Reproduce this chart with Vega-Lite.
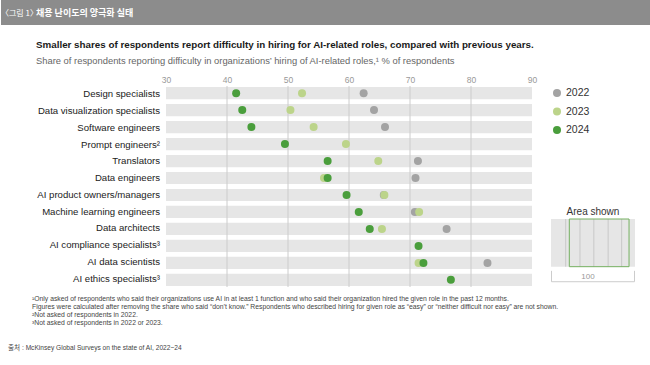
{
  "$schema": "https://vega.github.io/schema/vega-lite/v6.json",
  "padding": 0,
  "spacing": 0,
  "background": "white",
  "config": {
    "view": {"stroke": null},
    "font": "Liberation Sans Narrow, Liberation Sans, Noto Sans CJK KR, sans-serif",
    "concat": {"spacing": 0}
  },
  "datasets": {
    "points": [
      {"role": "Design specialists", "year": "2022", "value": 62.4},
      {"role": "Data visualization specialists", "year": "2022", "value": 64.1},
      {"role": "Software engineers", "year": "2022", "value": 65.9},
      {"role": "Translators", "year": "2022", "value": 71.3},
      {"role": "Data engineers", "year": "2022", "value": 70.9},
      {"role": "AI product owners/managers", "year": "2022", "value": 65.7},
      {"role": "Machine learning engineers", "year": "2022", "value": 70.8},
      {"role": "Data architects", "year": "2022", "value": 76.0},
      {"role": "AI data scientists", "year": "2022", "value": 82.7},
      {"role": "Design specialists", "year": "2023", "value": 52.3},
      {"role": "Data visualization specialists", "year": "2023", "value": 50.4},
      {"role": "Software engineers", "year": "2023", "value": 54.2},
      {"role": "Prompt engineers²", "year": "2023", "value": 59.5},
      {"role": "Translators", "year": "2023", "value": 64.8},
      {"role": "Data engineers", "year": "2023", "value": 55.9},
      {"role": "AI product owners/managers", "year": "2023", "value": 65.8},
      {"role": "Machine learning engineers", "year": "2023", "value": 71.5},
      {"role": "Data architects", "year": "2023", "value": 65.4},
      {"role": "AI data scientists", "year": "2023", "value": 71.4},
      {"role": "Design specialists", "year": "2024", "value": 41.5},
      {"role": "Data visualization specialists", "year": "2024", "value": 42.5},
      {"role": "Software engineers", "year": "2024", "value": 44.0},
      {"role": "Prompt engineers²", "year": "2024", "value": 49.5},
      {"role": "Translators", "year": "2024", "value": 56.5},
      {"role": "Data engineers", "year": "2024", "value": 56.5},
      {"role": "AI product owners/managers", "year": "2024", "value": 59.6},
      {"role": "Machine learning engineers", "year": "2024", "value": 61.6},
      {"role": "Data architects", "year": "2024", "value": 63.4},
      {"role": "AI compliance specialists³", "year": "2024", "value": 71.4},
      {"role": "AI data scientists", "year": "2024", "value": 72.2},
      {"role": "AI ethics specialists³", "year": "2024", "value": 76.7}
    ],
    "roles": [
      {"role": "Design specialists"},
      {"role": "Data visualization specialists"},
      {"role": "Software engineers"},
      {"role": "Prompt engineers²"},
      {"role": "Translators"},
      {"role": "Data engineers"},
      {"role": "AI product owners/managers"},
      {"role": "Machine learning engineers"},
      {"role": "Data architects"},
      {"role": "AI compliance specialists³"},
      {"role": "AI data scientists"},
      {"role": "AI ethics specialists³"}
    ],
    "grid": [{"g": 40}, {"g": 50}, {"g": 60}, {"g": 70}, {"g": 80}],
    "years": [{"year": "2022"}, {"year": "2023"}, {"year": "2024"}],
    "insetShown": [{"from": 21.8, "to": 92.9}],
    "insetGrid": [{"g": 17.5}, {"g": 34.5}, {"g": 51}, {"g": 68}, {"g": 84.1}],
    "bracket": [
      {"seq": 1, "bx": 0.6, "by": 0.19},
      {"seq": 2, "bx": 0.6, "by": 0.02},
      {"seq": 3, "bx": 99.4, "by": 0.02},
      {"seq": 4, "bx": 99.4, "by": 0.19}
    ]
  },
  "vconcat": [
    {
      "width": 650,
      "height": 25,
      "view": {"fill": "#8c8c8c", "stroke": null},
      "data": {"values": [{}]},
      "layer": [
        {"mark": {"type": "text", "text": "〈그림 1〉", "x": 0, "y": 13.5, "align": "left", "baseline": "middle", "font": "Noto Sans CJK KR", "fontSize": 8, "color": "white"}, "encoding": {}},
        {"mark": {"type": "text", "text": "채용 난이도의 양극화 실태", "x": 35, "y": 13, "align": "left", "baseline": "middle", "font": "Noto Sans CJK KR", "fontSize": 9, "fontWeight": "bold", "color": "white"}, "encoding": {}}
      ]
    },
    {
      "width": 650,
      "height": 47,
      "data": {"values": [{}]},
      "layer": [
        {"mark": {"type": "rule", "x": 28, "y": 13, "y2": 24, "strokeWidth": 3, "color": "#5aa846"}, "encoding": {}},
        {"mark": {"type": "text", "text": "Smaller shares of respondents report difficulty in hiring for AI-related roles, compared with previous years.", "x": 35, "y": 18.5, "align": "left", "baseline": "middle", "fontSize": 9.8, "fontWeight": "bold", "color": "#1a1a1a"}, "encoding": {}},
        {"mark": {"type": "text", "text": "Share of respondents reporting difficulty in organizations’ hiring of AI-related roles,¹ % of respondents", "x": 35, "y": 34.5, "align": "left", "baseline": "middle", "fontSize": 9.4, "color": "#666666"}, "encoding": {}}
      ]
    },
    {
      "hconcat": [
        {
          "hconcat": [
            {
              "width": 160,
              "height": 201,
              "data": {"name": "roles"},
              "mark": {"type": "text", "x": 159, "align": "right", "baseline": "middle", "fontSize": 9.6, "color": "#222222"},
              "encoding": {
                "y": {"field": "role", "type": "nominal", "sort": null, "scale": {"paddingInner": 0.28, "paddingOuter": 0.06}, "axis": null},
                "text": {"field": "role"}
              }
            },
            {
              "width": 366,
              "height": 201,
              "layer": [
                {
                  "data": {"name": "roles"},
                  "mark": {"type": "rect", "color": "#e6e6e6"},
                  "encoding": {
                    "y": {"field": "role", "type": "nominal", "sort": null, "title": null, "scale": {"paddingInner": 0.28, "paddingOuter": 0.06}, "axis": null},
                    "x": {
                      "datum": 30, "type": "quantitative", "title": null,
                      "scale": {"domain": [30, 90], "nice": false, "zero": false},
                      "axis": {"orient": "top", "values": [30, 40, 50, 60, 70, 80, 90], "ticks": false, "domain": false, "grid": false, "labelFlush": false, "labelPadding": 2, "labelFontSize": 8.5, "labelColor": "#999999", "minExtent": 13, "maxExtent": 13, "title": null}
                    },
                    "x2": {"datum": 90}
                  }
                },
                {
                  "data": {"name": "grid"},
                  "mark": {"type": "rule", "color": "#cccccc", "strokeWidth": 1},
                  "encoding": {"x": {"field": "g", "type": "quantitative", "title": null}}
                },
                {
                  "data": {"name": "points"},
                  "mark": {"type": "circle", "size": 64, "opacity": 1},
                  "encoding": {
                    "x": {"field": "value", "type": "quantitative", "title": null},
                    "y": {"field": "role", "type": "nominal", "sort": null, "title": null},
                    "color": {"field": "year", "type": "nominal", "scale": {"domain": ["2022", "2023", "2024"], "range": ["#a3a3a3", "#bcd48a", "#4a9e3c"]}, "legend": null},
                    "order": {"field": "year"}
                  }
                }
              ]
            }
          ],
          "spacing": 0
        },
        {
          "vconcat": [
            {
              "width": 84,
              "height": 77,
              "data": {"name": "years"},
              "layer": [
                {
                  "mark": {"type": "circle", "size": 64, "opacity": 1, "x": 6},
                  "encoding": {
                    "y": {"field": "year", "type": "nominal", "scale": {"type": "point", "range": [7, 44], "padding": 0}, "axis": null},
                    "color": {"field": "year", "type": "nominal", "scale": {"domain": ["2022", "2023", "2024"], "range": ["#a3a3a3", "#bcd48a", "#4a9e3c"]}, "legend": null}
                  }
                },
                {
                  "mark": {"type": "text", "x": 15, "align": "left", "baseline": "middle", "font": "Liberation Sans", "fontSize": 10.5, "color": "#333333"},
                  "encoding": {
                    "y": {"field": "year", "type": "nominal", "axis": null},
                    "text": {"field": "year"}
                  }
                }
              ]
            },
            {
              "width": 84,
              "height": 64,
              "title": {"text": "Area shown", "font": "Liberation Sans", "fontSize": 10, "fontWeight": "normal", "color": "#333333", "offset": 2},
              "layer": [
                {
                  "data": {"values": [{}]},
                  "mark": {"type": "rect", "color": "#e6e6e6"},
                  "encoding": {
                    "x": {"datum": 0, "type": "quantitative", "scale": {"domain": [0, 100], "nice": false}, "axis": null},
                    "x2": {"datum": 100},
                    "y": {"datum": 0.255, "type": "quantitative", "scale": {"domain": [0, 1], "nice": false}, "axis": null},
                    "y2": {"datum": 1}
                  }
                },
                {
                  "data": {"name": "insetGrid"},
                  "mark": {"type": "rule", "color": "#c8c8c8"},
                  "encoding": {
                    "x": {"field": "g", "type": "quantitative", "axis": null},
                    "y": {"datum": 0.255, "type": "quantitative", "axis": null},
                    "y2": {"datum": 1}
                  }
                },
                {
                  "data": {"name": "insetShown"},
                  "mark": {"type": "rect", "fillOpacity": 0, "stroke": "#74b060", "strokeWidth": 1},
                  "encoding": {
                    "x": {"field": "from", "type": "quantitative", "axis": null},
                    "x2": {"field": "to"},
                    "y": {"datum": 0.255, "type": "quantitative", "axis": null},
                    "y2": {"datum": 1}
                  }
                },
                {
                  "data": {"name": "bracket"},
                  "mark": {"type": "line", "color": "#cccccc", "strokeWidth": 1, "strokeJoin": "round"},
                  "encoding": {
                    "x": {"field": "bx", "type": "quantitative", "axis": null},
                    "y": {"field": "by", "type": "quantitative", "axis": null},
                    "order": {"field": "seq"}
                  }
                },
                {
                  "data": {"values": [{"label": "100", "lx": 44, "ly": 0.1}]},
                  "mark": {"type": "text", "font": "Liberation Sans", "fontSize": 8, "color": "#999999", "baseline": "middle"},
                  "encoding": {
                    "x": {"field": "lx", "type": "quantitative", "axis": null},
                    "y": {"field": "ly", "type": "quantitative", "axis": null},
                    "text": {"field": "label"}
                  }
                }
              ]
            }
          ],
          "spacing": 43
        }
      ],
      "spacing": 14
    },
    {
      "width": 650,
      "height": 78,
      "data": {"values": [{}]},
      "layer": [
        {"mark": {"type": "text", "text": ["¹Only asked of respondents who said their organizations use AI in at least 1 function and who said their organization hired the given role in the past 12 months.", "Figures were calculated after removing the share who said “don’t know.” Respondents who described hiring for given role as “easy” or “neither difficult nor easy” are not shown.", "²Not asked of respondents in 2022.", "³Not asked of respondents in 2022 or 2023."], "x": 31, "y": 7.5, "align": "left", "baseline": "top", "fontSize": 6.8, "lineHeight": 8, "color": "#444444"}, "encoding": {}},
        {"mark": {"type": "text", "text": "출처 : McKinsey Global Surveys on the state of AI, 2022~24", "x": 7, "y": 60, "align": "left", "baseline": "middle", "fontSize": 6.6, "color": "#444444"}, "encoding": {}}
      ]
    }
  ]
}
